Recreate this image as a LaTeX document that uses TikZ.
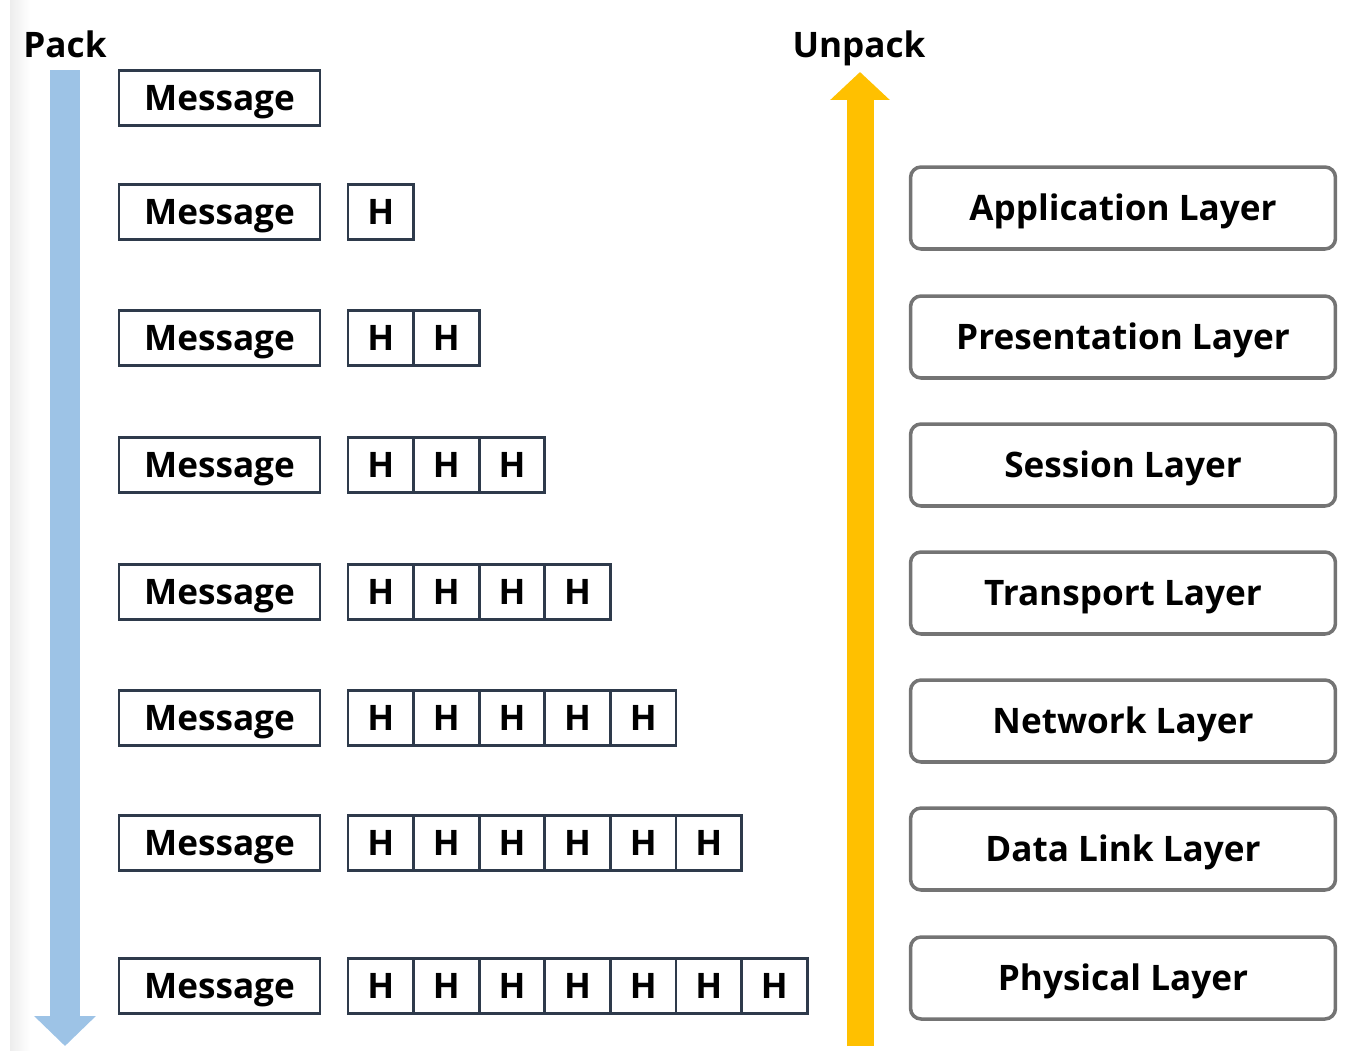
\documentclass[tikz,border=0pt]{standalone}
\usepackage{fontspec}
\setmainfont{Open Sans}
\usetikzlibrary{arrows.meta}
\definecolor{packblue}{HTML}{9DC3E6}
\definecolor{unpackgold}{HTML}{FFC000}
\definecolor{boxedge}{HTML}{2E3A4B}
\definecolor{layeredge}{HTML}{747474}
\tikzset{
  capfont/.style={font=\fontsize{20}{24}\selectfont\bfseries, text height=14.3pt, text depth=0pt},
  lbl/.style={capfont, text=black, inner sep=0pt},
  msgbox/.style={capfont, draw=boxedge, line width=1.6pt, fill=white, minimum width=4.02cm, minimum height=1.1cm, inner sep=0pt},
  hdrbox/.style={capfont, draw=boxedge, line width=1.6pt, fill=white, minimum width=1.31cm, minimum height=1.1cm, inner sep=0pt},
  layerbox/.style={capfont, draw=layeredge, line width=2pt, rounded corners=6pt, fill=white, minimum width=8.5cm, minimum height=1.64cm, inner sep=0pt},
  packarrow/.style={draw=packblue, line width=0.6cm, -{Triangle[width=1.2cm, length=0.6cm]}},
  unpackarrow/.style={draw=unpackgold, line width=0.54cm, -{Triangle[width=1.16cm, length=0.56cm]}},
}
\begin{document}
\begin{tikzpicture}[x=0.02cm, y=-0.02cm]
  \useasboundingbox (0,0) rectangle (1358,1058);
  % faint shadow along the left edge
  \shade[left color=black!7, right color=white] (10,0) rectangle (30,1050);

  % direction arrows
  \coordinate (packtop) at (65,70);
  \coordinate (packend) at (65,1046);
  \draw[packarrow] (packtop) -- (packend);
  \coordinate (unpackbase) at (860,1046);
  \coordinate (unpacktip) at (860,72);
  \draw[unpackarrow] (unpackbase) -- (unpacktip);
  \node[lbl] (pack) at (65,45) {Pack};
  \node[lbl] (unpack) at (859,45) {Unpack};

  % messages with their growing header stacks
  \foreach \r/\y in {1/98, 2/212, 3/338, 4/465, 5/592, 6/718, 7/843, 8/986} {
    \node[msgbox] (m\r) at (219.5,\y) {Message};
    \pgfmathtruncatemacro{\n}{\r-1}
    \ifnum\n>0
      \foreach \k in {1,...,\n} {
        \node[hdrbox] (h\r-\k) at ({348+32.8+65.6*(\k-1)},\y) {H};
      }
    \fi
  }

  % OSI layers
  \foreach \i/\y/\t in {1/208/Application Layer, 2/337/Presentation Layer, 3/465/Session Layer, 4/593/Transport Layer, 5/721/Network Layer, 6/849/Data Link Layer, 7/978/Physical Layer} {
    \node[layerbox] (L\i) at (1123,\y) {\t};
  }
\end{tikzpicture}
\end{document}
